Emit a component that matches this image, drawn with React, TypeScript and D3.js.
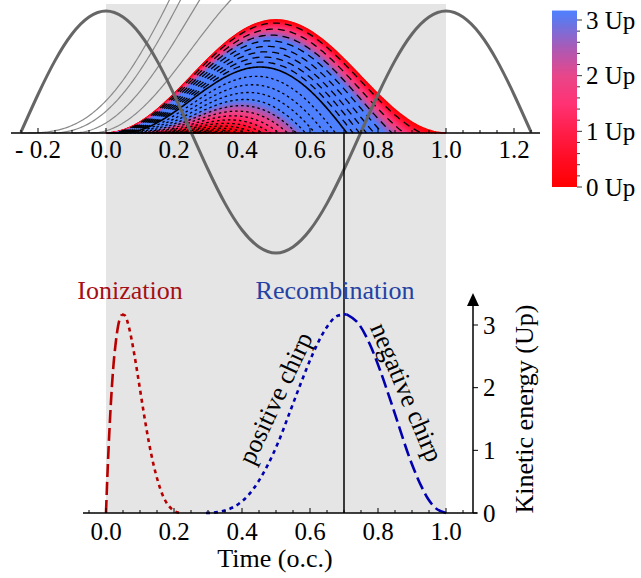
import React, { useMemo } from "react";
import * as d3 from "d3";

// ---------- data ----------
// driving field (normalised), sampled every 0.05 optical cycle
const fieldTimes = [-0.25, -0.2, -0.15, -0.1, -0.05, 0, 0.05, 0.1, 0.15, 0.2, 0.25, 0.3, 0.35, 0.4, 0.45, 0.5, 0.55, 0.6, 0.65, 0.7, 0.75, 0.8, 0.85, 0.9, 0.95, 1.0, 1.05, 1.1, 1.15, 1.2, 1.25];
const fieldValues = [0, 0.31, 0.59, 0.81, 0.95, 1, 0.95, 0.81, 0.59, 0.31, 0, -0.31, -0.59, -0.81, -0.95, -1, -0.95, -0.81, -0.59, -0.31, 0, 0.31, 0.59, 0.81, 0.95, 1, 0.95, 0.81, 0.59, 0.31, 0];

// kinetic energy (Up) vs ionization / recombination time (o.c.)
const ionLongTimes = [0, 0.00056, 0.0014, 0.0028, 0.0056, 0.0139, 0.0208, 0.0278, 0.0361, 0.0472];
const ionLongEnergy = [0, 0.09, 0.21, 0.42, 0.79, 1.71, 2.28, 2.68, 3.0, 3.17];
const ionShortTimes = [0.0472, 0.0556, 0.0694, 0.0833, 0.0972, 0.111, 0.125, 0.139, 0.153, 0.167, 0.181, 0.194, 0.208, 0.222];
const ionShortEnergy = [3.17, 3.15, 2.92, 2.53, 2.07, 1.6, 1.16, 0.79, 0.5, 0.28, 0.14, 0.06, 0.014, 0];
const recShortTimes = [0.294, 0.328, 0.361, 0.389, 0.418, 0.448, 0.478, 0.509, 0.54, 0.573, 0.6075, 0.644, 0.683, 0.708];
const recShortEnergy = [0, 0.014, 0.06, 0.14, 0.28, 0.5, 0.79, 1.16, 1.6, 2.07, 2.53, 2.92, 3.15, 3.17];
const recLongTimes = [0.708, 0.7456, 0.777, 0.806, 0.842, 0.899, 0.928, 0.949, 0.967, 1.0];
const recLongEnergy = [3.17, 3.0, 2.68, 2.28, 1.71, 0.79, 0.42, 0.21, 0.09, 0];

// birth phases (degrees) of the highlighted trajectories
const longBirthPhases = [1, 3, 5, 7, 9, 11, 13, 15];
const cutoffBirthPhase = 17;
const shortBirthPhases = [21, 25, 29, 33, 37, 41, 45, 49, 53, 57, 61, 65, 69, 73, 77, 81, 85];
// birth times (o.c.) of non-returning electrons
const strayBirthTimes = [-0.25, -0.16, -0.1, -0.045];
const cutoffTime = 0.7;

// ticks
const topTicks = [-0.2, 0, 0.2, 0.4, 0.6, 0.8, 1.0, 1.2];
const topTickLabels = ["- 0.2", "0.0", "0.2", "0.4", "0.6", "0.8", "1.0", "1.2"];
const bottomTicks = [0, 0.2, 0.4, 0.6, 0.8, 1.0];
const bottomTickLabels = ["0.0", "0.2", "0.4", "0.6", "0.8", "1.0"];
const energyTicks = [0, 1, 2, 3];
const colorbarTicks = [0, 1, 2, 3];
const colorbarLabels = ["0 Up", "1 Up", "2 Up", "3 Up"];

// colour map of the colour bar
const keStops = [0, 0.5, 1, 1.5, 2, 2.5, 3, 3.17];
const keColors = ["#ff0000", "#ff0c24", "#ff1e4a", "#ff3274", "#e8468a", "#aa5ab6", "#5f78ec", "#4f80ff"];
const fillGain = 1.45;

// ---------- model of the classical trajectory ----------
const TAU = 2 * Math.PI;
function excursion(t0: number, t: number) {
  const p0 = TAU * t0, p = TAU * t;
  return Math.cos(p0) - Math.cos(p) - (p - p0) * Math.sin(p0);
}
function returnTime(t0: number) {
  if (t0 <= 0) return 1;
  const step = 0.002;
  for (let t = t0 + step; t < 1.3; t += step) {
    if (excursion(t0, t) <= 0) {
      let a = t - step, b = t;
      for (let i = 0; i < 40; i++) {
        const m = (a + b) / 2;
        if (excursion(t0, m) > 0) a = m; else b = m;
      }
      return (a + b) / 2;
    }
  }
  return 1.3;
}
function returnEnergy(t0: number, tr: number) {
  const d = Math.sin(TAU * tr) - Math.sin(TAU * t0);
  return 2 * d * d;
}

const FONT = "Liberation Serif, Times New Roman, DejaVu Serif, serif";

export default function App() {
  const x = d3.scaleLinear().domain([0, 1]).range([106, 446]);
  const yTraj = d3.scaleLinear().domain([0, 2]).range([133, 20]);
  const yField = d3.scaleLinear().domain([-1, 1]).range([253, 11]);
  const yE = d3.scaleLinear().domain([0, 3]).range([513, 325]);
  const yCb = d3.scaleLinear().domain([0, 3]).range([187, 20]);
  const color = d3.scaleLinear<string>().domain(keStops).range(keColors).interpolate(d3.interpolateRgb).clamp(true);

  const model = useMemo(() => {
    const traj = (t0: number, tEnd: number, n = 140) => {
      const pts: [number, number][] = [];
      for (let i = 0; i <= n; i++) {
        const t = t0 + ((tEnd - t0) * i) / n;
        pts.push([x(t), yTraj(Math.max(0, excursion(t0, t)))]);
      }
      return d3.line()(pts) as string;
    };
    const fill = d3.range(0, 0.2445, 0.0004).map((t0) => {
      const tr = returnTime(t0);
      return { d: traj(t0, tr), c: color(returnEnergy(t0, tr) * fillGain) };
    });
    const mk = (deg: number) => {
      const t0 = deg / 360;
      return traj(t0, returnTime(t0), 200);
    };
    const stray = strayBirthTimes.map((t0) => {
      const pts: [number, number][] = [];
      for (let t = t0; t <= 0.45; t += 0.004) pts.push([x(t), yTraj(excursion(t0, t))]);
      return d3.line()(pts) as string;
    });
    return {
      fill,
      longs: longBirthPhases.map(mk),
      cutoff: mk(cutoffBirthPhase),
      shorts: shortBirthPhases.map(mk),
      stray,
    };
  }, []);

  const fieldPath = d3
    .line<number>()
    .x((_, i) => x(fieldTimes[i]))
    .y((v) => yField(v))
    .curve(d3.curveNatural)(fieldValues) as string;

  const eLine = (ts: number[], es: number[]) =>
    d3
      .line<number>()
      .x((_, i) => x(ts[i]))
      .y((v) => yE(v))
      .curve(d3.curveMonotoneX)(es) as string;

  const topMinor = d3.range(-0.25, 1.2501, 0.05);
  const bottomMinor = d3.range(-0.05, 1.0501, 0.05);
  const cbMinor = d3.range(0, 3.01, 0.2);
  const T = { fontFamily: FONT };

  return (
    <svg width={641} height={578} style={{ position: "absolute", left: 0, top: 0, fontFamily: FONT }}>
      <defs>
        <linearGradient id="cb" x1="0" y1="1" x2="0" y2="0">
          {keStops.map((s, i) => (
            <stop key={i} offset={s / 3.17} stopColor={keColors[i]} />
          ))}
        </linearGradient>
      </defs>
      <rect width={641} height={578} fill="#fff" />
      {/* shaded cycle */}
      <rect x={x(0)} y={4} width={x(1) - x(0)} height={513 - 4} fill="#e5e5e5" />

      {/* trajectory fill */}
      <g fill="none" strokeWidth={1.8}>
        {model.fill.map((f, i) => (
          <path key={i} d={f.d} stroke={f.c} />
        ))}
      </g>
      <g fill="none" stroke="#000">
        {model.longs.map((d, i) => (
          <path key={"l" + i} d={d} strokeWidth={1.3} strokeDasharray="7,5" />
        ))}
        {model.shorts.map((d, i) => (
          <path key={"s" + i} d={d} strokeWidth={1.3} strokeDasharray="2.5,3" />
        ))}
        <path d={model.cutoff} strokeWidth={1.6} />
      </g>
      {/* non-returning trajectories */}
      <g fill="none" stroke="#8a8a8a" strokeWidth={1.2}>
        {model.stray.map((d, i) => (
          <path key={i} d={d} />
        ))}
      </g>
      {/* field */}
      <path d={fieldPath} fill="none" stroke="#666" strokeWidth={3} />

      {/* top axis */}
      <line x1={11} x2={540} y1={133} y2={133} stroke="#000" strokeWidth={1.5} />
      {topMinor.map((t, i) => (
        <line key={i} x1={x(t)} x2={x(t)} y1={133} y2={Math.abs(Math.round(t * 20) % 4) === 0 ? 128 : 130} stroke="#000" strokeWidth={1} />
      ))}
      {topTicks.map((t, i) => (
        <text key={i} x={x(t)} y={158} fontSize={25} textAnchor="middle" style={T}>
          {topTickLabels[i]}
        </text>
      ))}

      {/* cutoff marker */}
      <line x1={x(cutoffTime)} x2={x(cutoffTime)} y1={133} y2={513} stroke="#000" strokeWidth={1.5} />

      {/* kinetic energy curves */}
      <g fill="none" strokeWidth={2.6}>
        <path d={eLine(ionLongTimes, ionLongEnergy)} stroke="#b80000" strokeDasharray="13,5" />
        <path d={eLine(ionShortTimes, ionShortEnergy)} stroke="#b80000" strokeDasharray="4,4" />
        <path d={eLine(recShortTimes, recShortEnergy)} stroke="#0000b0" strokeDasharray="4,4" />
        <path d={eLine(recLongTimes, recLongEnergy)} stroke="#0000b0" strokeDasharray="13,5" />
      </g>

      {/* bottom axis */}
      <line x1={83} x2={477} y1={513} y2={513} stroke="#000" strokeWidth={1.5} />
      {bottomMinor.map((t, i) => (
        <line key={i} x1={x(t)} x2={x(t)} y1={513} y2={Math.abs(Math.round(t * 20) % 4) === 0 ? 508 : 510} stroke="#000" strokeWidth={1} />
      ))}
      {bottomTicks.map((t, i) => (
        <text key={i} x={x(t)} y={540} fontSize={25} textAnchor="middle" style={T}>
          {bottomTickLabels[i]}
        </text>
      ))}
      <text x={275} y={567} fontSize={26} textAnchor="middle" style={T}>Time (o.c.)</text>

      {/* right energy axis */}
      <line x1={473} x2={473} y1={513} y2={304} stroke="#000" strokeWidth={1.5} />
      <path d="M473,293 L479,306 L467,306 Z" fill="#000" />
      {energyTicks.map((v, i) => (
        <g key={i}>
          <line x1={473} x2={478} y1={yE(v)} y2={yE(v)} stroke="#000" strokeWidth={1} />
          <text x={483} y={yE(v) + 8.5} fontSize={25} style={T}>{v}</text>
        </g>
      ))}
      <text transform="translate(533,409) rotate(-90)" fontSize={26} textAnchor="middle" style={T}>
        Kinetic energy (Up)
      </text>

      {/* labels */}
      <text x={130} y={299} fontSize={26} textAnchor="middle" fill="#a50f15" style={T}>Ionization</text>
      <text x={335} y={299} fontSize={26} textAnchor="middle" fill="#2342a3" style={T}>Recombination</text>
      <text transform="translate(275,398) rotate(-65)" fontSize={26} textAnchor="middle" dy="0.35em" style={T}>positive chirp</text>
      <text transform="translate(407,392) rotate(67)" fontSize={26} textAnchor="middle" dy="0.35em" style={T}>negative chirp</text>

      {/* colour bar */}
      <rect x={552} y={yCb(3.17)} width={25} height={yCb(0) - yCb(3.17)} fill="url(#cb)" />
      {cbMinor.map((v, i) => (
        <line key={i} x1={577} x2={Math.abs(v - Math.round(v)) < 1e-6 ? 582 : 580} y1={yCb(v)} y2={yCb(v)} stroke="#000" strokeWidth={0.8} />
      ))}
      {colorbarTicks.map((v, i) => (
        <text key={i} x={586} y={yCb(v) + 8.5} fontSize={25} style={T}>{colorbarLabels[i]}</text>
      ))}
    </svg>
  );
}
